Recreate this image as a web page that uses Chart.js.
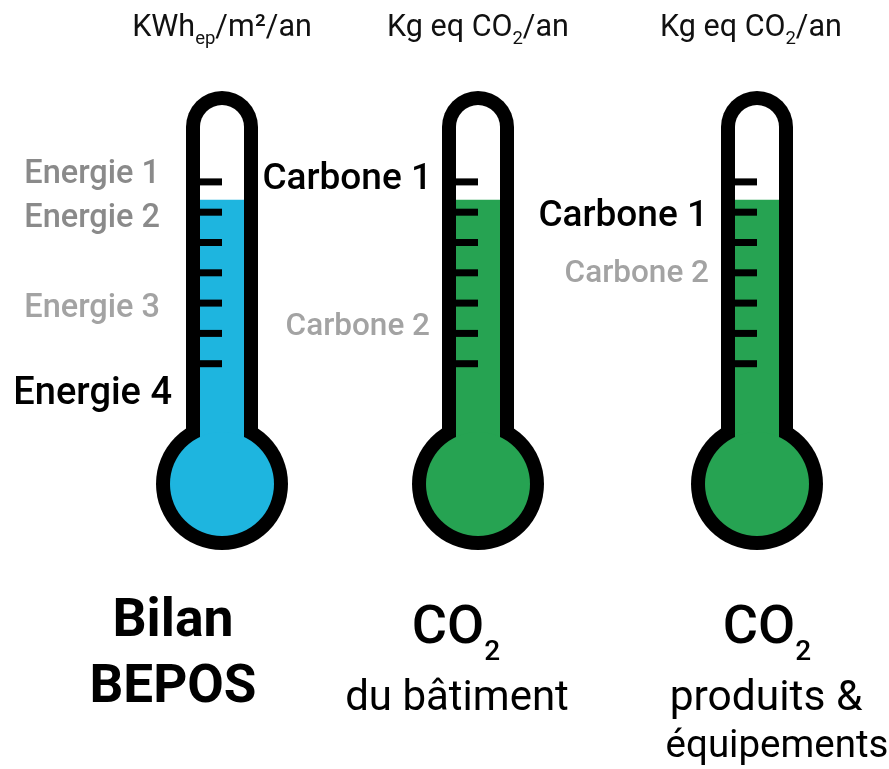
<!DOCTYPE html>
<html>
<head>
<meta charset="utf-8">
<script src="https://cdn.jsdelivr.net/npm/chart.js@4"></script>
<style>
html, body { margin: 0; padding: 0; background: #fff; overflow: hidden; width: 889px; height: 769px; position: relative; }
canvas { position: absolute; top: 0; }
</style>
</head>
<body>
<canvas id="thermo-0" width="440" height="769" style="left:2px"></canvas>
<canvas id="thermo-1" width="440" height="769" style="left:258px"></canvas>
<canvas id="thermo-2" width="440" height="769" style="left:537px"></canvas>
<script>
// Thermomètres BEPOS / carbone - Chart.js
const FONT = 'Roboto, "Noto Sans", sans-serif';

// --- données ---
const thermoNames = ["Bilan BEPOS", "CO2 du bâtiment", "CO2 produits & équipements"];
const fillLevels = [6.4, 6.4, 6.4];
const gradValues = [1, 2, 3, 4, 5, 6, 7];

const energieLabels = ["Energie 1", "Energie 2", "Energie 3", "Energie 4"];
const energieValues = [7.35, 5.9, 2.92, 0.1];

const carboneBatLabels = ["Carbone 1", "Carbone 2"];
const carboneBatValues = [7.2, 2.33];

const carboneProdLabels = ["Carbone 1", "Carbone 2"];
const carboneProdValues = [5.98, 4.08];

const unitTitles = [
    [{ t: "KWh" }, { t: "ep", sub: true }, { t: "/m²/an" }],
    [{ t: "Kg eq CO" }, { t: "2", sub: true }, { t: "/an" }],
    [{ t: "Kg eq CO" }, { t: "2", sub: true }, { t: "/an" }],
];

// --- styles ---
const fillColors = ["#1eb5df", "#26a352", "#26a352"];
const grey = "#8a8a8a", lightGrey = "#a3a3a3";
const energieStyles = [
    { color: grey, size: 32.5, weight: 500, gap: 26 },
    { color: grey, size: 32.5, weight: 500, gap: 26 },
    { color: lightGrey, size: 32.5, weight: 500, gap: 26 },
    { color: "#000", size: 38, weight: 500, gap: 14 },
];
const carboneBatStyles = [
    { color: "#000", size: 37, weight: 500, gap: 10 },
    { color: lightGrey, size: 31.5, weight: 500, gap: 12 },
];
const carboneProdStyles = [
    { color: "#000", size: 37, weight: 500, gap: 13 },
    { color: lightGrey, size: 31.5, weight: 500, gap: 12 },
];

const captions = [
    [
        { parts: [{ t: "Bilan" }], size: 53.5, weight: 700, dx: -49, y: 636 },
        { parts: [{ t: "BEPOS" }], size: 53, weight: 700, dx: -49, y: 702 },
    ],
    [
        { parts: [{ t: "CO" }, { t: "2", sub: true }], size: 54, weight: 500, dx: -22, y: 643, subSize: 28, subDy: 17 },
        { parts: [{ t: "du bâtiment" }], size: 42, weight: 400, dx: -21, y: 710 },
    ],
    [
        { parts: [{ t: "CO" }, { t: "2", sub: true }], size: 54, weight: 500, dx: 10, y: 643, subSize: 28, subDy: 17 },
        { parts: [{ t: "produits &" }], size: 42.5, weight: 400, dx: 9, y: 710 },
        { parts: [{ t: "équipements" }], size: 38.5, weight: 400, dx: 20, y: 757 },
    ],
];

function drawRich(ctx, parts, x, y, size, weight, subSize, subDy) {
    const fontOf = (p) => `${weight} ${p.sub ? subSize : size}px ${FONT}`;
    let total = 0;
    const widths = parts.map(p => {
        ctx.font = fontOf(p);
        const w = ctx.measureText(p.t).width;
        total += w;
        return w;
    });
    let cur = x - total / 2;
    ctx.textAlign = "left";
    ctx.textBaseline = "alphabetic";
    parts.forEach((p, i) => {
        ctx.font = fontOf(p);
        ctx.fillText(p.t, cur, p.sub ? y + subDy : y);
        cur += widths[i];
    });
}

const thermoPlugin = {
    id: "thermo",
    beforeDatasetsDraw(chart) {
        const ctx = chart.ctx, y = chart.scales.y, a = chart.chartArea;
        const cx = (a.left + a.right) / 2;
        const top = y.getPixelForValue(10);
        const zero = y.getPixelForValue(0);
        const bulbY = zero + 90;
        const color = chart.data.datasets[0].backgroundColor;
        ctx.save();
        // contour noir
        ctx.fillStyle = "#000";
        ctx.beginPath();
        ctx.arc(cx, top + 36, 36, Math.PI, 0);
        ctx.lineTo(cx + 36, bulbY);
        ctx.lineTo(cx - 36, bulbY);
        ctx.closePath();
        ctx.fill();
        ctx.beginPath();
        ctx.arc(cx, bulbY, 66, 0, Math.PI * 2);
        ctx.fill();
        // intérieur du tube
        ctx.fillStyle = "#fff";
        ctx.beginPath();
        ctx.arc(cx, top + 36, 22, Math.PI, 0);
        ctx.lineTo(cx + 22, bulbY);
        ctx.lineTo(cx - 22, bulbY);
        ctx.closePath();
        ctx.fill();
        // réservoir
        ctx.fillStyle = color;
        ctx.fillRect(cx - 22, zero - 1, 44, bulbY - zero + 1);
        ctx.beginPath();
        ctx.arc(cx, bulbY, 52, 0, Math.PI * 2);
        ctx.fill();
        ctx.restore();
    },
    afterDatasetsDraw(chart, args, o) {
        const ctx = chart.ctx, y = chart.scales.y, a = chart.chartArea;
        const cx = (a.left + a.right) / 2;
        ctx.save();
        // graduations
        ctx.fillStyle = "#000";
        gradValues.forEach(v => {
            const py = y.getPixelForValue(v);
            ctx.fillRect(cx - 30, py - 3.5, 30, 7);
        });
        // étiquettes
        ctx.textAlign = "right";
        ctx.textBaseline = "alphabetic";
        o.labels.forEach((lab, i) => {
            const s = o.styles[i];
            ctx.font = `${s.weight} ${s.size}px ${FONT}`;
            ctx.fillStyle = s.color;
            ctx.fillText(lab, cx - 36 - s.gap, y.getPixelForValue(o.values[i]) + s.size * 0.355);
        });
        // unité
        ctx.fillStyle = "#111";
        drawRich(ctx, o.title, cx + o.titleDx, 36, 30.5, 400, 18.5, 8);
        // légende du bas
        ctx.fillStyle = "#000";
        o.captions.forEach(c => {
            drawRich(ctx, c.parts, cx + c.dx, c.y, c.size, c.weight, c.subSize || 0, c.subDy || 0);
        });
        ctx.restore();
    }
};

const labelSets = [energieLabels, carboneBatLabels, carboneProdLabels];
const valueSets = [energieValues, carboneBatValues, carboneProdValues];
const styleSets = [energieStyles, carboneBatStyles, carboneProdStyles];
const titleDx = [0, 0, -6];

thermoNames.forEach((name, i) => {
    new Chart(document.getElementById("thermo-" + i), {
        type: "bar",
        data: {
            labels: [name],
            datasets: [{
                data: [fillLevels[i]],
                backgroundColor: fillColors[i],
                borderWidth: 0,
                barThickness: 44,
            }]
        },
        options: {
            responsive: false,
            animation: false,
            layout: { padding: { top: 91, bottom: 375, left: 198, right: 198 } },
            scales: {
                x: { display: false },
                y: { display: false, min: 0, max: 10 }
            },
            plugins: {
                legend: { display: false },
                tooltip: { enabled: false },
                thermo: {
                    labels: labelSets[i],
                    values: valueSets[i],
                    styles: styleSets[i],
                    title: unitTitles[i],
                    titleDx: titleDx[i],
                    captions: captions[i],
                }
            }
        },
        plugins: [thermoPlugin]
    });
});
</script>
</body>
</html>
